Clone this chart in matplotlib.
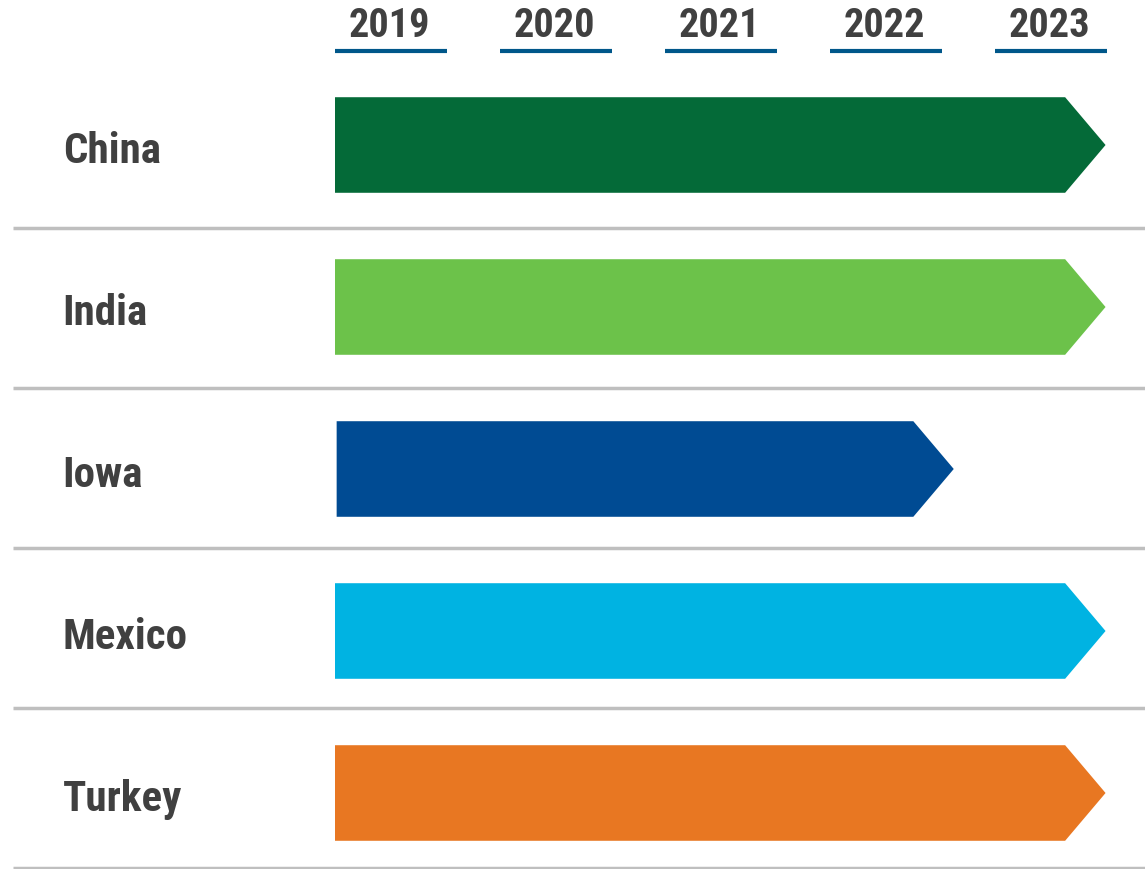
import matplotlib
matplotlib.use('Agg')
import matplotlib.pyplot as plt
from matplotlib import font_manager
from matplotlib.patches import Polygon

# look for a narrow bold face, the reference uses something like Arial Narrow
names = {f.name for f in font_manager.fontManager.ttflist}
narrow = [n for n in ['Liberation Sans Narrow', 'DejaVu Sans Condensed', 'Roboto Condensed']
          if n in names]
if narrow:
    plt.rcParams['font.family'] = [narrow[0], 'Liberation Sans', 'DejaVu Sans']
    fsize, lsize = 29, 31
else:
    plt.rcParams['font.family'] = ['Liberation Sans', 'DejaVu Sans']
    fsize, lsize = 24, 25

# data
countries = ['China', 'India', 'Iowa', 'Mexico', 'Turkey']
starts = [2019.0, 2019.0, 2019.01, 2019.0, 2019.0]
ends = [2023.67, 2023.67, 2022.75, 2023.67, 2023.67]
colors = ['#046a38', '#6cc24a', '#004b93', '#00b3e2', '#e87722']
years = [2019, 2020, 2021, 2022, 2023]

fig = plt.figure(figsize=(11.45, 8.7), dpi=100)
ax = fig.add_axes([0, 0, 1, 1])
# 165 px per year, 2019 at x=335 px; 162 px per row, first row at y=146 px
ax.set_xlim(2019 - 335 / 165, 2019 + 810 / 165)
ax.set_ylim((870 - 146) / 162, -146 / 162)
ax.axis('off')

bar_h = 0.59
tip = 0.245
text_col = '#404040'

# year header
for yr in years:
    ax.text(yr + 0.33, -0.673, str(yr), ha='center', va='baseline',
            fontsize=fsize, fontweight='bold', color=text_col)
    ax.plot([yr, yr + 0.68], [-0.58, -0.58], color='#00578a', lw=3,
            solid_capstyle='butt')

for i, (c, s, e, col) in enumerate(zip(countries, starts, ends, colors)):
    top, bot = i - bar_h / 2, i + bar_h / 2
    poly = Polygon([(s, top), (e - tip, top), (e, i), (e - tip, bot), (s, bot)],
                   closed=True, facecolor=col, edgecolor='none')
    ax.add_patch(poly)
    ax.text(2017.35, i + 0.105, c, ha='left', va='baseline', fontsize=lsize,
            fontweight='bold', color=text_col)
    sep = i + 0.51 - 0.012 * i
    ax.plot([2019 - 322 / 165, 2019 + 810 / 165], [sep, sep],
            color='#bfbfbf', lw=2.5, solid_capstyle='butt')

fig.savefig('out.png', dpi=100)
